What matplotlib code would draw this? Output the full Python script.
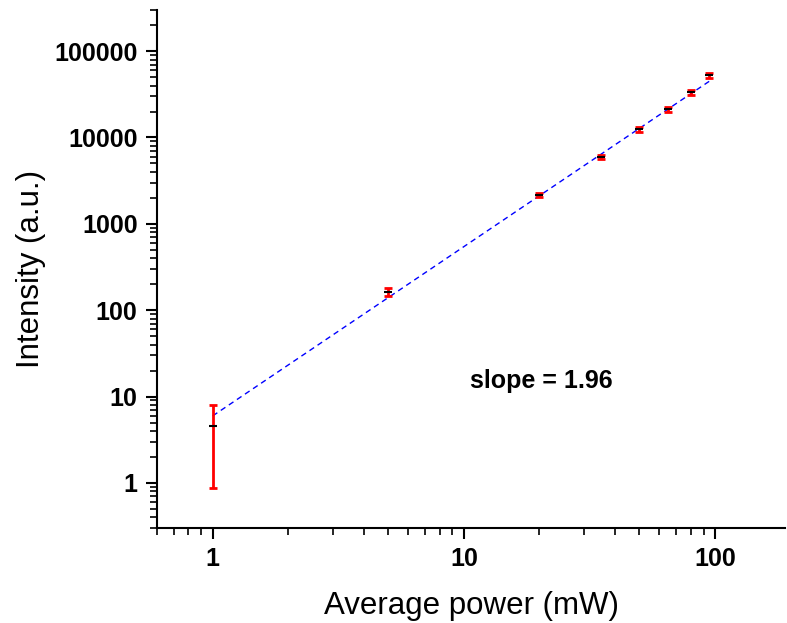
import numpy as np
import matplotlib
matplotlib.use("Agg")
from matplotlib import pyplot as plt
from matplotlib.ticker import LogLocator, FixedLocator, FixedFormatter, NullFormatter

# data
power = [1, 5, 20, 35, 50, 65, 80, 95]
intensity = [4.5, 164, 2140, 6000, 12400, 21300, 33500, 52500]
err_low = [3.62, 18, 120, 320, 900, 1300, 2300, 3000]
err_high = [3.5, 18, 120, 320, 900, 1300, 2300, 3000]
fit_slope = 1.96
fit_x = [1, 95]

plt.rcParams["font.family"] = ["Liberation Sans", "DejaVu Sans"]

fig = plt.figure(figsize=(7.87, 6.23), dpi=100)
ax = fig.add_axes([0.1995, 0.1525, 0.798, 0.8315])

# power law fit line
fx = np.array(fit_x, dtype=float)
logx = np.log10(power)
logy = np.log10(intensity)
intercept = np.mean(logy - fit_slope * logx)
fy = 10 ** intercept * fx ** fit_slope
ax.plot(fx, fy, "--", color="blue", lw=1, dashes=(4, 3), zorder=2)

ax.errorbar(power, intensity, yerr=[err_low, err_high], fmt="none",
            ecolor="red", elinewidth=2, capsize=3, capthick=2, zorder=3)
ax.plot(power, intensity, "_", color="black", ms=6, mew=1.5, zorder=4)

ax.set_xscale("log")
ax.set_yscale("log")
ax.set_xlim(0.6, 190)
ax.set_ylim(0.3, 3e5)

ax.xaxis.set_major_locator(FixedLocator([1, 10, 100]))
ax.xaxis.set_major_formatter(FixedFormatter(["1", "10", "100"]))
ax.xaxis.set_minor_locator(LogLocator(base=10, subs=np.arange(2, 10)))
ax.xaxis.set_minor_formatter(NullFormatter())
yt = [1, 10, 100, 1000, 10000, 100000]
ax.yaxis.set_major_locator(FixedLocator(yt))
ax.yaxis.set_major_formatter(FixedFormatter([str(v) for v in yt]))
ax.yaxis.set_minor_locator(LogLocator(base=10, subs=np.arange(2, 10)))
ax.yaxis.set_minor_formatter(NullFormatter())

for s in ["top", "right"]:
    ax.spines[s].set_visible(False)
for s in ["left", "bottom"]:
    ax.spines[s].set_linewidth(1.5)

ax.tick_params(which="major", direction="out", length=8, width=1.5,
               labelsize=18, pad=6)
ax.tick_params(which="minor", direction="out", length=5, width=1.2)
for lab in ax.get_xticklabels() + ax.get_yticklabels():
    lab.set_fontweight("bold")

ax.set_xlabel("Average power (mW)", fontsize=22.5, labelpad=14)
ax.set_ylabel("Intensity (a.u.)", fontsize=22.5, labelpad=6)

ax.text(0.498, 0.283, "slope = 1.96", fontsize=18, fontweight="bold",
        va="center", ha="left", transform=ax.transAxes)

fig.savefig("out.png", dpi=100)
